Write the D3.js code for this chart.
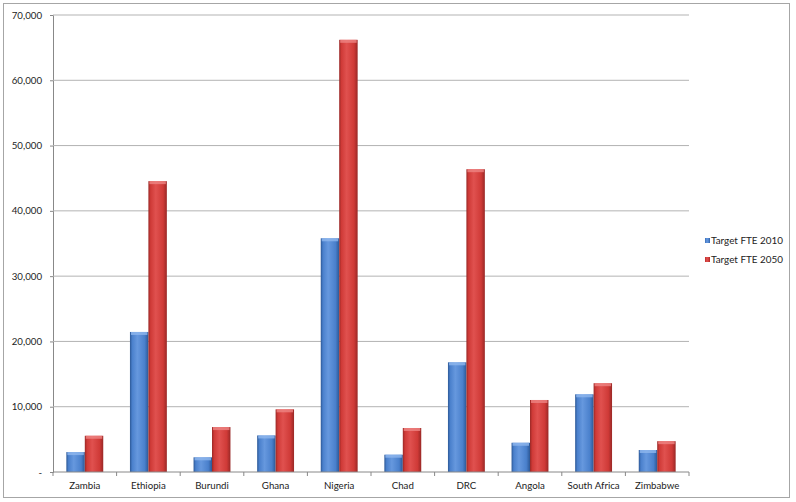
<!DOCTYPE html>
<html>
<head>
<meta charset="utf-8">
<script src="https://cdn.jsdelivr.net/npm/d3@7"></script>
<style>
  body { margin: 0; background: #fff; }
  svg { display: block; font-family: Lato, "Open Sans", sans-serif; }
</style>
</head>
<body>
<svg id="chart" width="796" height="502"></svg>
<script>
// Chart data
const countries = ["Zambia", "Ethiopia", "Burundi", "Ghana", "Nigeria", "Chad", "DRC", "Angola", "South Africa", "Zimbabwe"];
const seriesNames = ["Target FTE 2010", "Target FTE 2050"];
const fte2010 = [3050, 21450, 2250, 5600, 35800, 2650, 16800, 4480, 11900, 3370];
const fte2050 = [5550, 44550, 6880, 9600, 66200, 6740, 46380, 11030, 13600, 4720];
const yTicks = [0, 10000, 20000, 30000, 40000, 50000, 60000, 70000];

const svg = d3.select("#chart");
const margin = { top: 15, left: 53, right: 107, bottom: 30 };
const width = 796, height = 502;
const plotW = width - margin.left - margin.right;   // 636
const plotH = height - margin.top - margin.bottom;  // 457

// outer chart border
svg.append("rect")
  .attr("x", 3.5).attr("y", 3.5)
  .attr("width", 786).attr("height", 494)
  .attr("fill", "#fff")
  .attr("stroke", "#a6a6a6")
  .attr("stroke-width", 1);

// gradients for the bevelled bar look
const defs = svg.append("defs");
const palettes = [
  { id: "gradBlue", edge: "#2c5896", mid: "#4a80cc", light: "#6698de", cap: "#8fb6ee" },
  { id: "gradRed",  edge: "#992826", mid: "#cf3a37", light: "#e0514f", cap: "#ee8583" }
];
palettes.forEach(p => {
  const lg = defs.append("linearGradient").attr("id", p.id)
    .attr("x1", "0%").attr("x2", "100%").attr("y1", "0%").attr("y2", "0%");
  lg.append("stop").attr("offset", "0%").attr("stop-color", p.edge);
  lg.append("stop").attr("offset", "12%").attr("stop-color", p.mid);
  lg.append("stop").attr("offset", "40%").attr("stop-color", p.light);
  lg.append("stop").attr("offset", "80%").attr("stop-color", p.mid);
  lg.append("stop").attr("offset", "100%").attr("stop-color", p.edge);
});

const g = svg.append("g").attr("transform", `translate(${margin.left},${margin.top})`);

const x0 = d3.scaleBand()
  .domain(countries)
  .range([0, plotW])
  .paddingInner(0.42)
  .paddingOuter(0.21);

const x1 = d3.scaleBand()
  .domain(seriesNames)
  .range([0, x0.bandwidth()]);

const y = d3.scaleLinear()
  .domain([0, 70000])
  .range([plotH, 0]);

// gridlines + y axis
const yAxis = d3.axisLeft(y)
  .tickValues(yTicks)
  .tickSize(3)
  .tickPadding(8)
  .tickFormat(d => d === 0 ? "-" : d3.format(",")(d));

const yg = g.append("g").call(yAxis);
yg.select(".domain").attr("stroke", "#888");
yg.selectAll(".tick line").attr("stroke", "#888");
yg.selectAll(".tick text")
  .attr("fill", "#222")
  .style("font-family", "Lato, sans-serif")
  .style("font-size", "9.7px");

g.append("g")
  .selectAll("line")
  .data(yTicks.filter(d => d > 0))
  .join("line")
  .attr("x1", 0).attr("x2", plotW)
  .attr("y1", d => y(d)).attr("y2", d => y(d))
  .attr("stroke", "#b3b3b3")
  .attr("stroke-width", 1);

// bars
const rows = countries.map((c, i) => ({ country: c, values: [fte2010[i], fte2050[i]] }));
const groups = g.append("g")
  .selectAll("g")
  .data(rows)
  .join("g")
  .attr("transform", d => `translate(${x0(d.country)},0)`);

groups.selectAll("rect.bar")
  .data(d => d.values.map((v, k) => ({ key: seriesNames[k], value: v, k })))
  .join("rect")
  .attr("class", "bar")
  .attr("x", d => x1(d.key))
  .attr("y", d => y(d.value))
  .attr("width", x1.bandwidth())
  .attr("height", d => plotH - y(d.value))
  .attr("fill", d => `url(#${palettes[d.k].id})`);

// light cap on top of each bar
groups.selectAll("rect.cap")
  .data(d => d.values.map((v, k) => ({ key: seriesNames[k], value: v, k })))
  .join("rect")
  .attr("class", "cap")
  .attr("x", d => x1(d.key) + 1)
  .attr("y", d => y(d.value))
  .attr("width", x1.bandwidth() - 2)
  .attr("height", 3)
  .attr("fill", d => palettes[d.k].cap)
  .attr("opacity", 0.8);

// x axis
const xg = g.append("g").attr("transform", `translate(0,${plotH})`);
xg.append("line")
  .attr("x1", 0).attr("x2", plotW)
  .attr("stroke", "#888");
xg.selectAll("line.tick")
  .data(d3.range(countries.length + 1))
  .join("line")
  .attr("class", "tick")
  .attr("x1", i => i * x0.step()).attr("x2", i => i * x0.step())
  .attr("y1", 0).attr("y2", 4)
  .attr("stroke", "#888");
xg.selectAll("text")
  .data(countries)
  .join("text")
  .attr("x", d => x0(d) + x0.bandwidth() / 2)
  .attr("y", 17)
  .attr("text-anchor", "middle")
  .attr("fill", "#222")
  .style("font-size", "9.7px")
  .text(d => d);

// legend
const legend = svg.append("g").attr("transform", "translate(705,244)");
seriesNames.forEach((name, k) => {
  const row = legend.append("g").attr("transform", `translate(0,${k * 19})`);
  row.append("rect")
    .attr("x", 0).attr("y", -6)
    .attr("width", 5).attr("height", 5)
    .attr("fill", `url(#${palettes[k].id})`);
  row.append("text")
    .attr("x", 6).attr("y", 0)
    .attr("fill", "#222")
    .style("font-size", "9.9px")
    .text(name);
});
</script>
</body>
</html>
